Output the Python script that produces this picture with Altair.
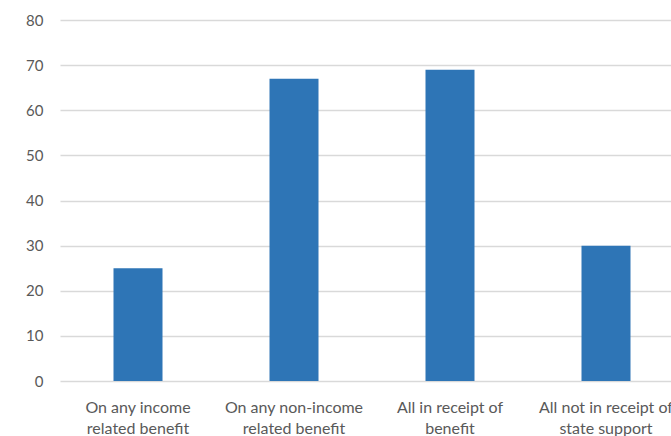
import altair as alt
import pandas as pd

categories = [
    "On any income|related benefit",
    "On any non-income|related benefit",
    "All in receipt of|benefit",
    "All not in receipt of|state support",
]
values = [25, 67, 69, 30]
y_ticks = [0, 10, 20, 30, 40, 50, 60, 70, 80]

df = pd.DataFrame({"category": categories, "value": values})

chart = (
    alt.Chart(df)
    .mark_bar(size=49, color="#2e75b6")
    .encode(
        x=alt.X(
            "category:N",
            sort=categories,
            title=None,
            scale=alt.Scale(range=[0, 624], paddingInner=0, paddingOuter=0),
            axis=alt.Axis(
                labelAngle=0,
                labelExpr="split(datum.label, '|')",
                labelFont="Lato",
                labelFontSize=16,
                labelColor="#595959",
                labelLineHeight=21,
                labelPadding=18,
                labelBaseline="top",
                ticks=False,
                domain=False,
                grid=False,
                labelOverlap=False,
                labelBound=False,
                labelFlush=False,
            ),
        ),
        y=alt.Y(
            "value:Q",
            title=None,
            scale=alt.Scale(domain=[0, 80], nice=False),
            axis=alt.Axis(
                values=y_ticks,
                labelFont="Lato",
                labelFontSize=15,
                labelColor="#595959",
                labelPadding=17,
                ticks=False,
                domain=False,
                gridColor="#d9d9d9",
                gridWidth=1.3,
            ),
        ),
    )
    .properties(
        width=611,
        height=361,
        autosize=alt.AutoSizeParams(type="none"),
        padding={"left": 60, "right": 0, "top": 20, "bottom": 55},
    )
    .configure(background="white", view=alt.ViewConfig(stroke=None))
)

chart.save("out.html", embed_options={"renderer": "svg", "actions": False})
